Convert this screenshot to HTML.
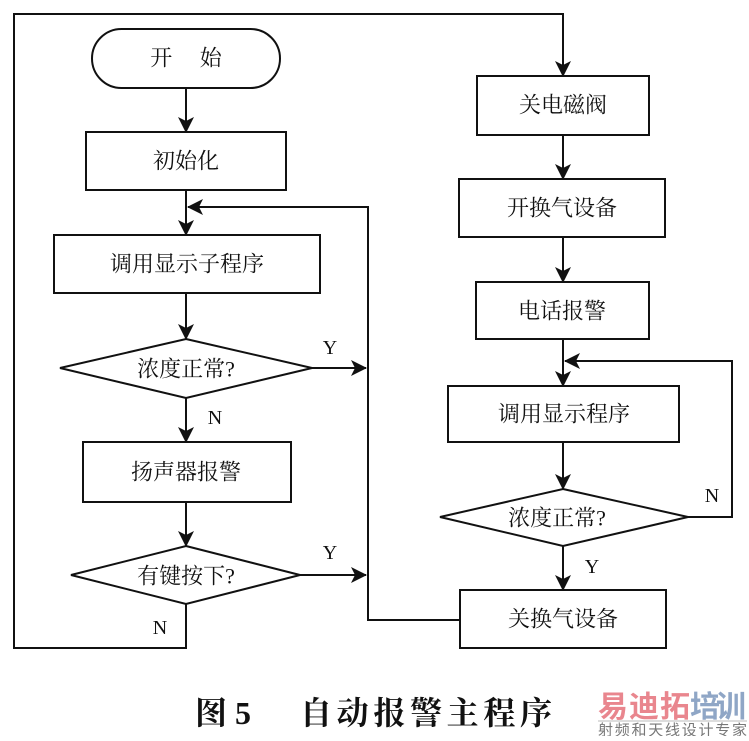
<!DOCTYPE html>
<html><head><meta charset="utf-8">
<style>
html,body{margin:0;padding:0;background:#fff;}
svg text{font-family:"Liberation Serif","Noto Serif CJK SC",serif;fill:#111;}
</style></head>
<body>
<svg width="749" height="736" viewBox="0 0 749 736" xmlns="http://www.w3.org/2000/svg">
<defs>
<marker id="a" markerWidth="16" markerHeight="16" refX="15" refY="8" orient="auto" markerUnits="userSpaceOnUse">
<path d="M0,0 L16,8 L0,16 L4,8 Z" fill="#111"/>
</marker>
</defs>
<g stroke="#111" stroke-width="2" fill="none">
<polyline points="186,604 186,648 14,648 14,14 563,14 563,76" marker-end="url(#a)"/>
<rect x="92" y="29" width="188" height="59" rx="29.5"/>
<line x1="186" y1="88" x2="186" y2="132" marker-end="url(#a)"/>
<rect x="86" y="132" width="200" height="58"/>
<line x1="186" y1="190" x2="186" y2="235" marker-end="url(#a)"/>
<rect x="54" y="235" width="266" height="58"/>
<line x1="186" y1="293" x2="186" y2="339" marker-end="url(#a)"/>
<polygon points="186,339 312,368 186,398 60,368"/>
<line x1="312" y1="368" x2="366" y2="368" marker-end="url(#a)"/>
<line x1="186" y1="398" x2="186" y2="442" marker-end="url(#a)"/>
<rect x="83" y="442" width="208" height="60"/>
<line x1="186" y1="502" x2="186" y2="546" marker-end="url(#a)"/>
<polygon points="186,546 300,575 186,604 71,575"/>
<line x1="300" y1="575" x2="366" y2="575" marker-end="url(#a)"/>
<polyline points="459,620 368,620 368,207 188,207" marker-end="url(#a)"/>
<rect x="477" y="76" width="172" height="59"/>
<line x1="563" y1="135" x2="563" y2="179" marker-end="url(#a)"/>
<rect x="459" y="179" width="206" height="58"/>
<line x1="563" y1="237" x2="563" y2="282" marker-end="url(#a)"/>
<rect x="476" y="282" width="173" height="57"/>
<line x1="563" y1="339" x2="563" y2="386" marker-end="url(#a)"/>
<polyline points="688,517 732,517 732,361 565,361" marker-end="url(#a)"/>
<rect x="448" y="386" width="231" height="56"/>
<line x1="563" y1="442" x2="563" y2="489" marker-end="url(#a)"/>
<polygon points="563,489 688,517 563,546 440,517"/>
<line x1="563" y1="546" x2="563" y2="590" marker-end="url(#a)"/>
<rect x="460" y="590" width="206" height="58"/>
</g>
<g font-size="22" text-anchor="middle" dominant-baseline="central">
<text x="186" y="58">开　 始</text>
<text x="186" y="161">初始化</text>
<text x="187" y="264">调用显示子程序</text>
<text x="186" y="369">浓度正常?</text>
<text x="186" y="472">扬声器报警</text>
<text x="186" y="576">有键按下?</text>
<text x="563" y="105">关电磁阀</text>
<text x="562" y="208">开换气设备</text>
<text x="562" y="311">电话报警</text>
<text x="564" y="414">调用显示程序</text>
<text x="557" y="518">浓度正常?</text>
<text x="563" y="619">关换气设备</text>
</g>
<g font-size="20" text-anchor="middle" dominant-baseline="central">
<text x="330" y="348">Y</text>
<text x="215" y="418">N</text>
<text x="330" y="553">Y</text>
<text x="160" y="628">N</text>
<text x="712" y="496">N</text>
<text x="592" y="567">Y</text>
</g>
<text x="195" y="724" font-size="32" font-weight="bold">图 5</text>
<text x="300" y="724" font-size="32" font-weight="bold" textLength="252">自动报警主程序</text>
<text x="598" y="717" font-size="30" font-weight="bold" style="fill:#e9868e;font-family:'Noto Sans CJK SC',sans-serif" textLength="92">易迪拓</text>
<text x="690" y="717" font-size="30" font-weight="bold" style="fill:#8fa6c6;font-family:'Noto Sans CJK SC',sans-serif" textLength="56">培训</text>
<line x1="598" y1="721" x2="747" y2="721" stroke="#bbb" stroke-width="1"/>
<text x="598" y="735" font-size="15" style="fill:#777;font-family:'Noto Sans CJK SC',sans-serif" textLength="149">射频和天线设计专家</text>
</svg>
</body></html>
